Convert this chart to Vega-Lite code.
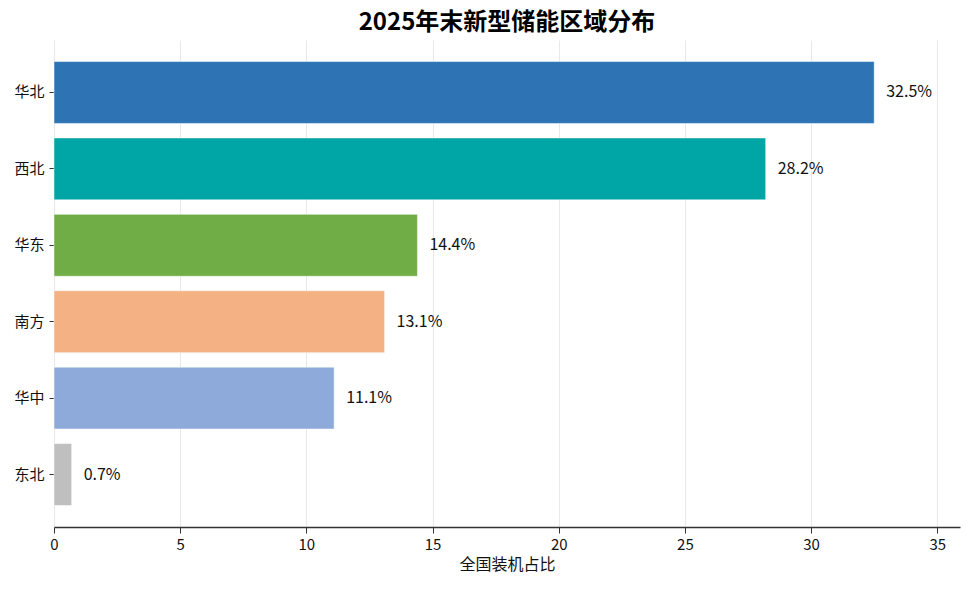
{
  "$schema": "https://vega.github.io/schema/vega-lite/v6.json",
  "width": 906,
  "height": 487,
  "autosize": {"type": "none"},
  "padding": {"left": 54, "top": 40, "right": 11, "bottom": 62},
  "background": "white",
  "title": {
    "text": "2025年末新型储能区域分布",
    "font": "Noto Sans CJK SC",
    "fontSize": 24,
    "fontWeight": "bold",
    "color": "#000000",
    "offset": 5
  },
  "config": {
    "font": "Noto Sans CJK SC",
    "view": {"stroke": null}
  },
  "data": {
    "values": [
      {"region": "华北", "share": 32.5},
      {"region": "西北", "share": 28.2},
      {"region": "华东", "share": 14.4},
      {"region": "南方", "share": 13.1},
      {"region": "华中", "share": 11.1},
      {"region": "东北", "share": 0.7}
    ]
  },
  "transform": [
    {"calculate": "format(datum.share, '.1f') + '%'", "as": "label"}
  ],
  "encoding": {
    "y": {
      "field": "region",
      "type": "nominal",
      "sort": null,
      "title": null,
      "scale": {"paddingInner": 0.19, "paddingOuter": 0.282},
      "axis": {
        "domain": false,
        "ticks": true,
        "tickSize": 5,
        "tickColor": "#333333",
        "labelFontSize": 15,
        "labelColor": "#111111",
        "labelPadding": 5
      }
    },
    "x": {
      "field": "share",
      "type": "quantitative",
      "title": "全国装机占比",
      "scale": {"domain": [0, 35.9], "nice": false},
      "axis": {
        "values": [0, 5, 10, 15, 20, 25, 30, 35],
        "labelFlush": false,
        "domainColor": "#333333",
        "domainWidth": 1.5,
        "tickColor": "#333333",
        "tickSize": 6,
        "labelFontSize": 15,
        "labelColor": "#111111",
        "labelPadding": 4,
        "titleFontSize": 16,
        "titleFontWeight": "normal",
        "titleColor": "#111111",
        "titlePadding": 4,
        "gridColor": "#e8e8e8",
        "grid": true
      }
    }
  },
  "layer": [
    {
      "mark": {"type": "bar", "stroke": "white", "strokeWidth": 0.5},
      "encoding": {
        "color": {
          "field": "region",
          "type": "nominal",
          "legend": null,
          "scale": {
            "domain": ["华北", "西北", "华东", "南方", "华中", "东北"],
            "range": ["#2e74b5", "#00a5a5", "#70ad47", "#f4b183", "#8eaadb", "#bfbfbf"]
          }
        }
      }
    },
    {
      "mark": {"type": "text", "align": "left", "baseline": "middle", "dx": 12, "fontSize": 16, "color": "#111111"},
      "encoding": {
        "text": {"field": "label"}
      }
    }
  ]
}
